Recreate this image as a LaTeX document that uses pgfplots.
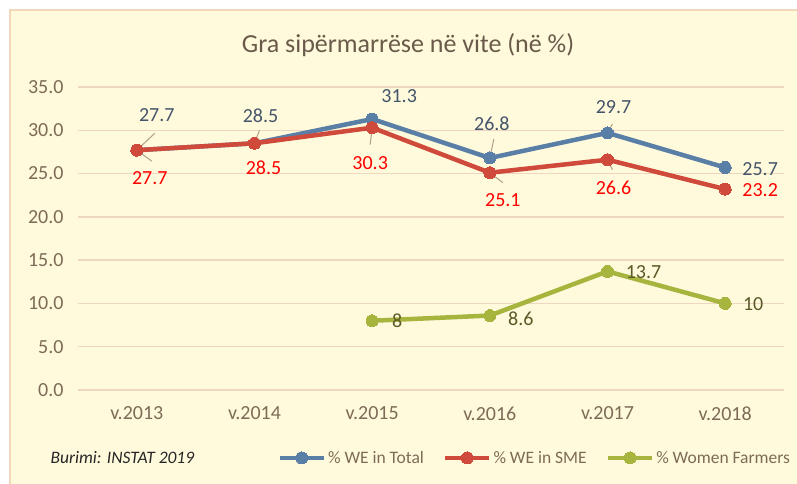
\documentclass[border=0pt]{standalone}
\usepackage{pgfplots}
\pgfplotsset{compat=1.18}
\usepackage{fontspec}
\setmainfont{Carlito}
\definecolor{bgc}{HTML}{FFFADC}
\definecolor{framec}{HTML}{F0D8B8}
\definecolor{gridc}{HTML}{EED6C0}
\definecolor{tickc}{HTML}{7D6B58}
\definecolor{titlec}{HTML}{6A5A4A}
\definecolor{bluec}{HTML}{5A7FA6}
\definecolor{redc}{HTML}{D04A3C}
\definecolor{greenc}{HTML}{A7B43E}
\definecolor{bluelbl}{HTML}{44546A}
\definecolor{redlbl}{HTML}{FF0000}
\definecolor{greenlbl}{HTML}{5A5A28}
\definecolor{leadc}{HTML}{B0A08C}
\begin{document}
\begin{tikzpicture}[x=1pt,y=1pt]
\useasboundingbox (0,0) rectangle (797,484);
\fill[white] (0,0) rectangle (797,484);
\fill[bgc] (10,0) rectangle (797,474);
\draw[framec,line width=1.5pt] (10,0) -- (10,474) -- (797,474);
\node[text=titlec,font=\fontsize{26}{30}\selectfont] at (408,439) {Gra sipërmarrëse në vite (në \%)};
\node[anchor=west,font=\fontsize{17.5}{21}\selectfont\itshape,text=black!85] at (47,26) {Burimi: INSTAT 2019};
\begin{axis}[
  scale only axis, width=706pt, height=303pt,
  at={(78pt,94pt)}, anchor=south west,
  xmin=-0.5, xmax=5.5, ymin=0, ymax=35,
  xtick={0,...,5}, xticklabels={v.2013,v.2014,v.2015,v.2016,v.2017,v.2018},
  ytick={0,5,...,35},
  axis line style={draw=none}, major tick length=0pt,
  ymajorgrids, grid style={gridc,line width=1.5pt},
  /pgf/number format/assume math mode=true,
  y tick label style={/pgf/number format/fixed,/pgf/number format/fixed zerofill,/pgf/number format/precision=1},
  every tick label/.append style={font=\fontsize{20}{24}\selectfont,text=tickc},
  yticklabel style={xshift=-11pt},
  xticklabel style={yshift=-13pt},
  clip=false,
  legend columns=3,
  legend style={draw=none,fill=none,at={(0.647,-0.224)},anchor=center,
    font=\fontsize{17.5}{21}\selectfont,text=tickc,
    /tikz/every even column/.append style={column sep=17pt}},
  legend image code/.code={\draw[mark repeat=2,mark phase=2,#1] plot coordinates {(0pt,0pt) (22pt,0pt) (44pt,0pt)};},
]
\addplot[bluec,line width=4.5pt,mark=*,mark size=6pt,mark options={line width=0pt}] coordinates {(0,27.7) (1,28.5) (2,31.3) (3,26.8) (4,29.7) (5,25.7)};
\addlegendentry{\% WE in Total}
\addplot[redc,line width=4.5pt,mark=*,mark size=6pt,mark options={line width=0pt}] coordinates {(0,27.7) (1,28.5) (2,30.3) (3,25.1) (4,26.6) (5,23.2)};
\addlegendentry{\% WE in SME}
\addplot[greenc,line width=4.5pt,mark=*,mark size=6pt,mark options={line width=0pt}] coordinates {(2,8) (3,8.6) (4,13.7) (5,10)};
\addlegendentry{\% Women Farmers}
% leader lines
\draw[leadc,line width=1pt] (axis cs:0,27.7) -- ++(18pt,17pt);
\draw[leadc,line width=1pt] (axis cs:1,28.5) -- ++(5pt,13pt);
\draw[leadc,line width=1pt] (axis cs:3,26.8) -- ++(4pt,19pt);
\draw[leadc,line width=1pt] (axis cs:4,29.7) -- ++(5pt,9pt);
\draw[leadc,line width=1pt] (axis cs:0,27.7) -- ++(15pt,-11pt);
\draw[leadc,line width=1pt] (axis cs:2,30.3) -- ++(-2pt,-17pt);
\draw[leadc,line width=1pt] (axis cs:3,25.1) -- ++(13pt,-10pt);
\draw[leadc,line width=1pt] (axis cs:4,26.6) -- ++(5pt,-10pt);
% labels
\begin{scope}[every node/.style={font=\fontsize{20}{24}\selectfont,inner sep=0pt}]
\node[text=bluelbl] at ([shift={(20pt,35pt)}]axis cs:0,27.7) {27.7};
\node[text=bluelbl] at ([shift={(6pt,28pt)}]axis cs:1,28.5) {28.5};
\node[text=bluelbl] at ([shift={(27pt,23pt)}]axis cs:2,31.3) {31.3};
\node[text=bluelbl] at ([shift={(2pt,34pt)}]axis cs:3,26.8) {26.8};
\node[text=bluelbl] at ([shift={(6pt,26pt)}]axis cs:4,29.7) {29.7};
\node[text=bluelbl] at ([shift={(35pt,-2pt)}]axis cs:5,25.7) {25.7};
\node[text=redlbl] at ([shift={(13pt,-28pt)}]axis cs:0,27.7) {27.7};
\node[text=redlbl] at ([shift={(9pt,-24pt)}]axis cs:1,28.5) {28.5};
\node[text=redlbl] at ([shift={(-2pt,-35pt)}]axis cs:2,30.3) {30.3};
\node[text=redlbl] at ([shift={(13pt,-27.5pt)}]axis cs:3,25.1) {25.1};
\node[text=redlbl] at ([shift={(6pt,-28pt)}]axis cs:4,26.6) {26.6};
\node[text=redlbl] at ([shift={(35pt,-1pt)}]axis cs:5,23.2) {23.2};
\node[text=greenlbl] at ([shift={(25pt,0pt)}]axis cs:2,8) {8};
\node[text=greenlbl] at ([shift={(31pt,-3pt)}]axis cs:3,8.6) {8.6};
\node[text=greenlbl] at ([shift={(36pt,-1pt)}]axis cs:4,13.7) {13.7};
\node[text=greenlbl] at ([shift={(28pt,-1pt)}]axis cs:5,10) {10};
\end{scope}
\end{axis}
\end{tikzpicture}
\end{document}
